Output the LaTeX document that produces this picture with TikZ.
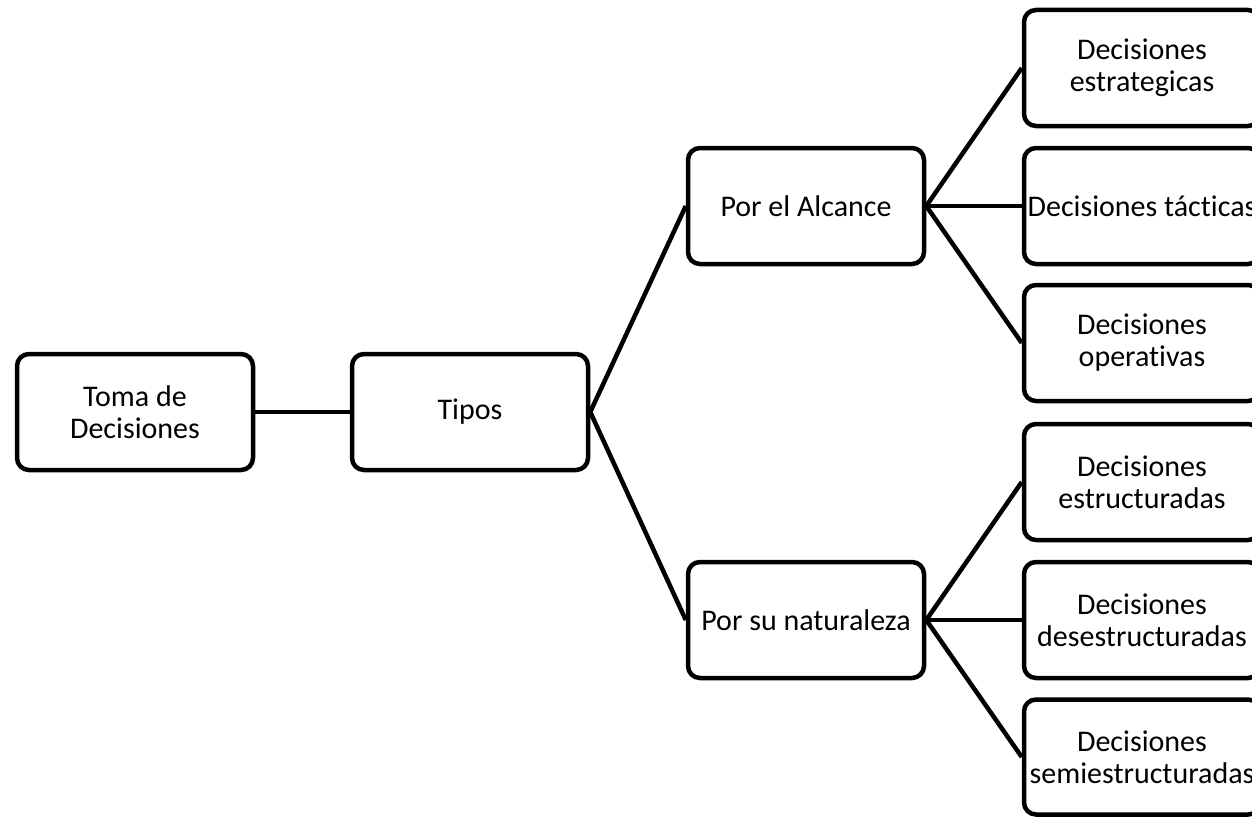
\documentclass[tikz,border=0pt]{standalone}
\usepackage{fontspec}
\setmainfont[Ligatures={NoCommon}]{Carlito}
\begin{document}
\begin{tikzpicture}[x=1pt,y=-1pt,
  box/.style={draw=black, line width=4.5pt, rounded corners=12pt, minimum width=236pt, minimum height=116pt, align=center, inner sep=0pt, font=\fontsize{30}{32}\selectfont, fill=white},
  conn/.style={line width=4.5pt}]
\useasboundingbox (0,0) rectangle (1252,816);
\clip (0,0) rectangle (1252,816);
\fill[white] (0,0) rectangle (1252,816);
\node[box] (toma) at (135,412) {Toma de\\Decisiones};
\node[box] (tipos) at (470,412) {Tipos};
\node[box] (alc) at (806,206) {Por el Alcance};
\node[box] (nat) at (806,620) {Por su naturaleza};
\node[box] (r1) at (1142,68) {Decisiones\\estrategicas};
\node[box] (r2) at (1142,206) {Decisiones tácticas};
\node[box] (r3) at (1142,343) {Decisiones\\operativas};
\node[box] (r4) at (1142,482) {Decisiones\\estructuradas};
\node[box] (r5) at (1142,620) {Decisiones\\desestructuradas};
\node[box, minimum height=115pt] (r6) at (1142,757) {Decisiones\\semiestructuradas};
\draw[conn] (toma.east) -- (tipos.west);
\draw[conn] (tipos.east) -- (alc.west);
\draw[conn] (tipos.east) -- (nat.west);
\draw[conn] (alc.east) -- (r1.west);
\draw[conn] (alc.east) -- (r2.west);
\draw[conn] (alc.east) -- (r3.west);
\draw[conn] (nat.east) -- (r4.west);
\draw[conn] (nat.east) -- (r5.west);
\draw[conn] (nat.east) -- (r6.west);
\end{tikzpicture}
\end{document}
